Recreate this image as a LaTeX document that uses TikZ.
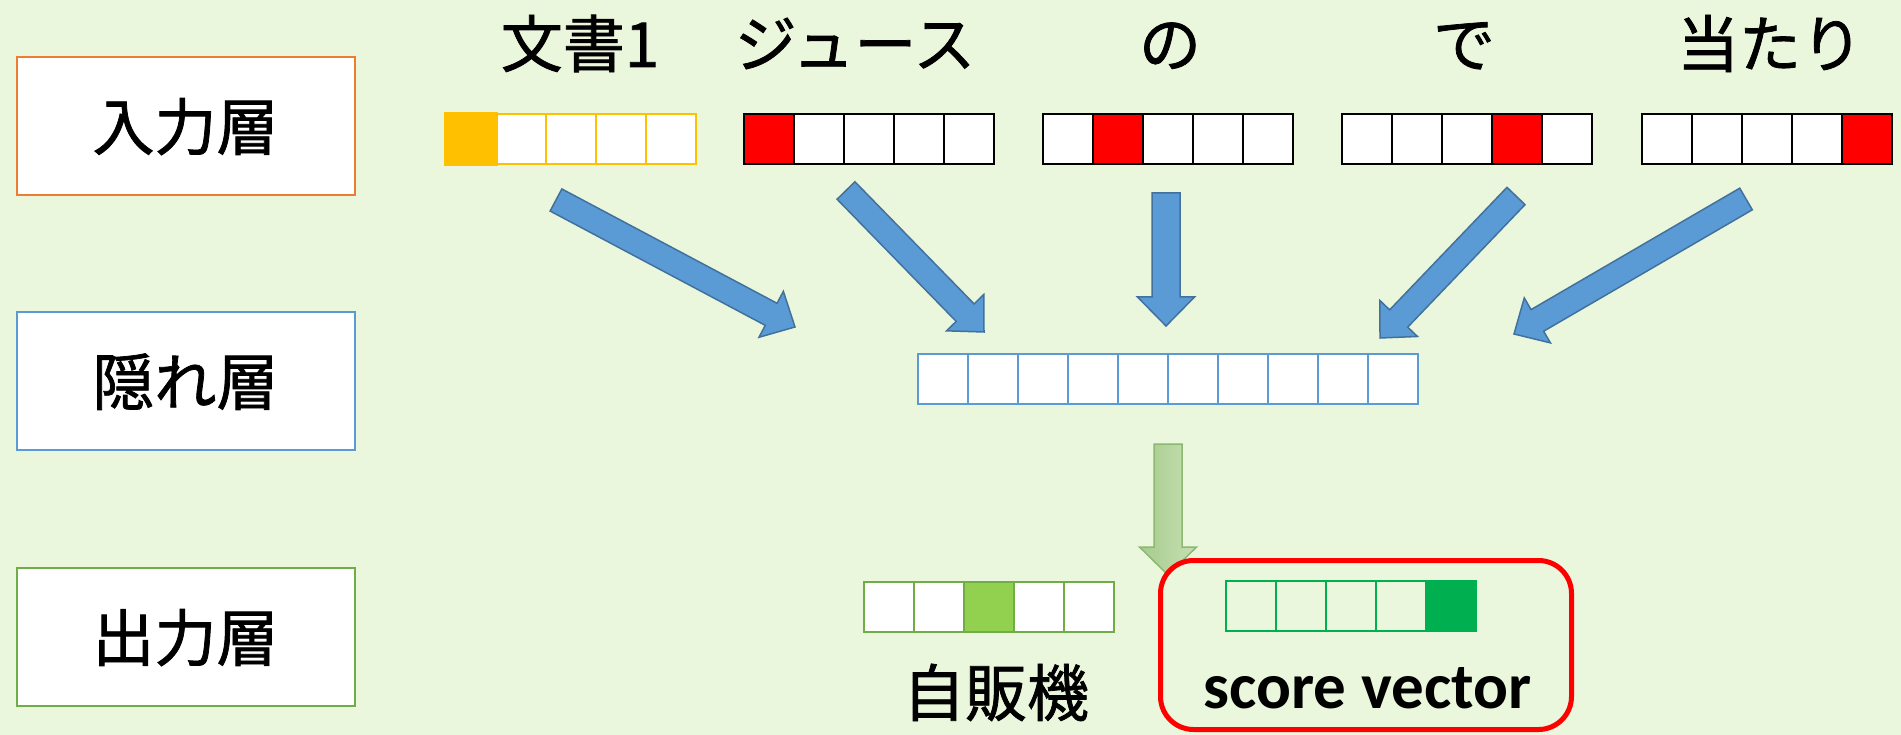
\documentclass[tikz,border=0pt]{standalone}
\usepackage{fontspec}
\setmainfont{Noto Sans CJK JP}
\newfontfamily\cjk[FakeBold=1.2]{Noto Sans CJK JP}
\newfontfamily\carl{Carlito}
\usetikzlibrary{calc}
\definecolor{bgc}{RGB}{234,247,220}
\definecolor{orangeb}{HTML}{ED7D31}
\definecolor{blueb}{HTML}{5B9BD5}
\definecolor{blued}{HTML}{41719C}
\definecolor{greenb}{HTML}{70AD47}
\definecolor{greenf}{HTML}{92D050}
\definecolor{greens}{HTML}{00B050}
\definecolor{yellowb}{HTML}{FFC000}
\definecolor{garrowl}{HTML}{A6CB8C}
\definecolor{garrowr}{HTML}{C6E0B4}
\definecolor{garrowd}{HTML}{8DB872}
% block arrow: style, tail, tip, half shaft, half head, head length
\newcommand\blockarrow[6]{%
  \coordinate (bah) at ($(#3)!#6!(#2)$);
  \path[#1] ($(#2)!#4!90:(#3)$) -- ($(bah)!#4!90:(#3)$) -- ($(bah)!#5!90:(#3)$)
    -- (#3) -- ($(bah)!#5!-90:(#3)$) -- ($(bah)!#4!-90:(#3)$) -- ($(#2)!#4!-90:(#3)$) -- cycle;
}
\begin{document}
\begin{tikzpicture}[x=1pt,y=-1pt,
  layerbox/.style={draw, line width=2pt, fill=white, minimum width=338pt, minimum height=138pt, inner sep=0pt},
  big/.style={font=\cjk\fontsize{62}{70}\selectfont, inner sep=0pt, text height=54pt, text depth=6pt},
  cell/.style={draw, line width=2pt, fill=white, minimum width=50pt, minimum height=50pt, inner sep=0pt},
  blockarr/.style={fill=blueb, draw=blued, line width=1.5pt, line join=miter},
  greenarr/.style={left color=garrowl, right color=garrowr, draw=garrowd, line width=1.5pt},
]
\fill[bgc] (0,0) rectangle (1901,735);
\useasboundingbox (0,0) rectangle (1901,735);

% layer boxes
\node[layerbox, draw=orangeb] (inbox) at (185.5,126) {};
\node[layerbox, draw=blueb] (hidbox) at (185.5,381) {};
\node[layerbox, draw=greenb] (outbox) at (185.5,637) {};
\node[big] (inlab) at (inbox.center) {入力層};
\node[big] (hidlab) at (hidbox.center) {隠れ層};
\node[big] (outlab) at (outbox.center) {出力層};

% word labels
\node[big] (w1) at (580,43) {文書1};
\node[big] (w2) at (855,43) {ジュース};
\node[big] (w3) at (1170,43) {の};
\node[big] (w4) at (1464,43) {で};
\node[big] (w5) at (1770,43) {当たり};

% input one-hot vectors
\foreach \i in {1,...,5} {
  \node[cell, draw=yellowb] (a\i) at (446+25+50*\i-50,139.5) {};
}
\fill[yellowb] (a1.north west) rectangle (a1.south east);
\draw[yellowb, line width=2pt] (a1.north west) rectangle (a1.south east);
\foreach \v/\xs/\hot in {b/744/1, c/1043/2, d/1342/4, e/1642/5} {
  \foreach \i in {1,...,5} {
    \ifnum\i=\hot
      \node[cell, draw=black, fill=red] (\v\i) at (\xs+25+50*\i-50,139.5) {};
    \else
      \node[cell, draw=black] (\v\i) at (\xs+25+50*\i-50,139.5) {};
    \fi
  }
}

% hidden vector
\foreach \i in {1,...,10} {
  \node[cell, draw=blueb] (h\i) at (918+25+50*\i-50,379) {};
}

% output vectors
\foreach \i in {1,...,5} {
  \ifnum\i=3
    \node[cell, draw=greenb, fill=greenf] (o\i) at (864+25+50*\i-50,607) {};
  \else
    \node[cell, draw=greenb] (o\i) at (864+25+50*\i-50,607) {};
  \fi
}
\foreach \i in {1,...,5} {
  \ifnum\i=5
    \node[cell, draw=greens, fill=greens] (s\i) at (1226+25+50*\i-50,606) {};
  \else
    \node[cell, draw=greens, fill=none] (s\i) at (1226+25+50*\i-50,606) {};
  \fi
}
\node[big] (vend) at (996,692) {自販機};
\node[font=\carl\bfseries\fontsize{65}{70}\selectfont, inner sep=0pt, anchor=base] (score) at (1367.5,708) {score vector};

% blue block arrows
\coordinate (t1) at (556,200);   \coordinate (p1) at (795,327);
\coordinate (t2) at (846,190.5); \coordinate (p2) at (984,332);
\coordinate (t3) at (1166,193);  \coordinate (p3) at (1166,326);
\coordinate (t4) at (1516,196);  \coordinate (p4) at (1380,338);
\coordinate (t5) at (1746,199);  \coordinate (p5) at (1514,334);
\blockarrow{blockarr}{t1}{p1}{12.5pt}{26pt}{27pt}
\blockarrow{blockarr}{t2}{p2}{12.5pt}{26pt}{27pt}
\blockarrow{blockarr}{t3}{p3}{14pt}{28.5pt}{29pt}
\blockarrow{blockarr}{t4}{p4}{12.5pt}{26pt}{27pt}
\blockarrow{blockarr}{t5}{p5}{12.5pt}{26pt}{27pt}

% green arrow
\coordinate (gt) at (1168,444); \coordinate (gp) at (1168,575);
\blockarrow{greenarr}{gt}{gp}{14pt}{28.5pt}{28pt}

% red highlight box
\node[draw=red, line width=5pt, rounded corners=33pt, minimum width=411pt, minimum height=169pt, inner sep=0pt] (scorebox) at (1366,645) {};
\end{tikzpicture}
\end{document}
